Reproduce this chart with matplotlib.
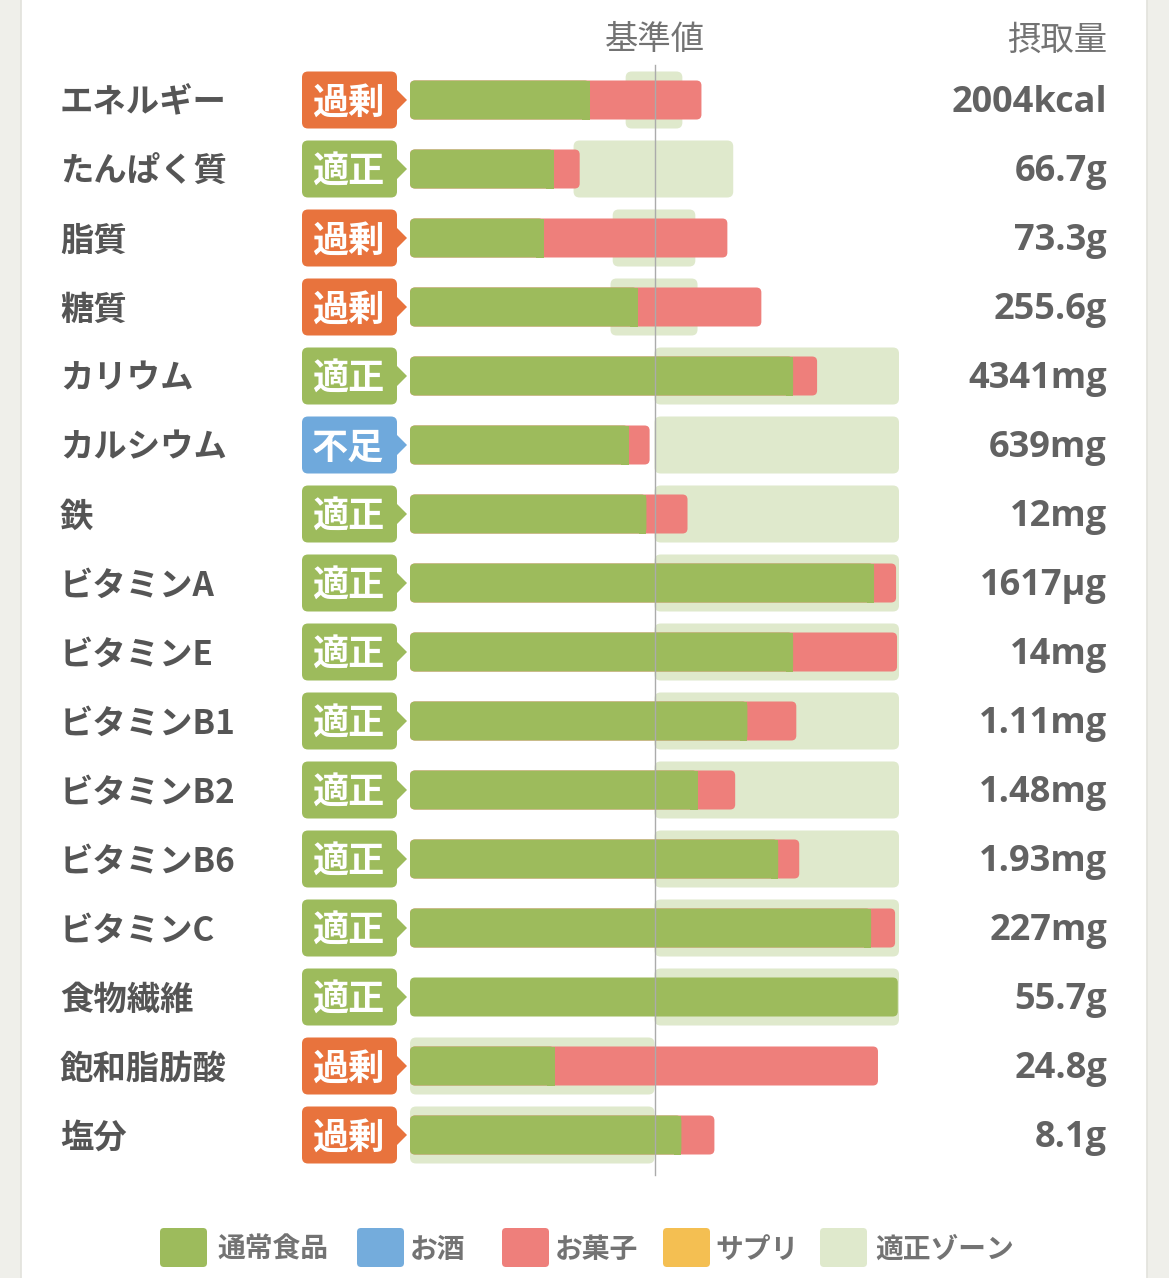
import matplotlib
matplotlib.use("Agg")
import matplotlib.pyplot as plt
from matplotlib.patches import FancyBboxPatch, Rectangle, Polygon

plt.rcParams["font.family"] = ["Noto Sans CJK JP", "DejaVu Sans"]
value_fam = ["Open Sans", "Noto Sans CJK JP", "DejaVu Sans"]

# ---- data (percent of the reference value) ----
nutrients = ["エネルギー", "たんぱく質", "脂質", "糖質", "カリウム", "カルシウム", "鉄",
             "ビタミンA", "ビタミンE", "ビタミンB1", "ビタミンB2", "ビタミンB6",
             "ビタミンC", "食物繊維", "飽和脂肪酸", "塩分"]
status = ["過剰", "適正", "過剰", "過剰", "適正", "不足", "適正", "適正",
          "適正", "適正", "適正", "適正", "適正", "適正", "過剰", "過剰"]
intake = ["2004kcal", "66.7g", "73.3g", "255.6g", "4341mg", "639mg", "12mg", "1617µg",
          "14mg", "1.11mg", "1.48mg", "1.93mg", "227mg", "55.7g", "24.8g", "8.1g"]
food = [73.5, 58.8, 54.7, 93.1, 156.7, 89.4, 96.7, 189.8,
        156.7, 138.0, 117.6, 150.6, 188.6, 199.5, 59.2, 111.0]
sweets = [45.7, 10.6, 75.1, 50.6, 9.8, 8.6, 16.8, 9.0,
          42.5, 20.0, 15.4, 8.6, 9.8, 0.0, 132.2, 13.5]
zone_lo = [88.2, 66.9, 82.9, 82.0, 100, 100, 100, 100, 100, 100, 100, 100, 100, 100, 0, 0]
zone_hi = [111.4, 132.2, 116.7, 117.6, 200, 200, 200, 200, 200, 200, 200, 200, 200, 200, 100, 100]
legend_names = ["通常食品", "お酒", "お菓子", "サプリ", "適正ゾーン"]

# colours
c_food = "#9DBB5C"
c_sake = "#74ACDC"
c_sweet = "#EE7F7B"
c_supp = "#F4BF52"
c_zone = "#DFE9CC"
badge_col = {"過剰": "#E8733D", "適正": "#9DBB5C", "不足": "#6FA9DC"}
txt_dark = "#555555"
txt_gray = "#737373"

W, H = 1169, 1278
x0_px, sx = 410, 2.445      # pixel of 0 %, pixels per 1 %
y0_px, sy = 100, 69         # pixel of row 0 centre, pixels per row

fig = plt.figure(figsize=(W / 100, H / 100), dpi=100, facecolor="#EFEFEA")
ax = fig.add_axes([0, 0, 1, 1])
ax.set_xlim(-x0_px / sx, (W - x0_px) / sx)
ax.set_ylim((H - y0_px) / sy, -y0_px / sy)
ax.axis("off")

def px(x):
    return (x - x0_px) / sx

def py(y):
    return (y - y0_px) / sy

asp = (1 / sy) / (1 / sx)

def rbox(x, y, w, h, r, color, z):
    p = FancyBboxPatch((x, y), w, h, boxstyle=f"round,pad=0,rounding_size={r / sx}",
                       mutation_aspect=asp, fc=color, ec="none", zorder=z)
    ax.add_patch(p)

# white card
ax.add_patch(Rectangle((px(21), py(0)), (1147 - 21) / sx, H / sy, fc="white", ec="none", zorder=0))
ax.plot([px(21), px(21)], [py(0), py(H)], color="#E2E2DC", lw=1.2, zorder=0.5)
ax.plot([px(1147), px(1147)], [py(0), py(H)], color="#E2E2DC", lw=1.2, zorder=0.5)

bar_h = 39 / sy
zone_h = 57 / sy
dy = 3 / sy   # text baseline nudge

for i, name in enumerate(nutrients):
    # appropriate zone
    rbox(zone_lo[i], i - zone_h / 2, zone_hi[i] - zone_lo[i], zone_h, 6, c_zone, 1)
    # stacked bar
    total = food[i] + sweets[i]
    if sweets[i] > 0:
        rbox(0, i - bar_h / 2, total, bar_h, 5, c_sweet, 2)
        rbox(0, i - bar_h / 2, food[i], bar_h, 5, c_food, 3)
        ax.add_patch(Rectangle((food[i] - 3, i - bar_h / 2), 3, bar_h, fc=c_food, ec="none", zorder=3))
    else:
        rbox(0, i - bar_h / 2, food[i], bar_h, 5, c_food, 3)

    # badge
    col = badge_col[status[i]]
    rbox(px(302), i - zone_h / 2, (397 - 302) / sx, zone_h, 6, col, 2)
    ax.add_patch(Polygon([(px(396), i - 11 / sy), (px(407), i), (px(396), i + 11 / sy)],
                         closed=True, fc=col, ec="none", zorder=2))
    ax.text(px(348), i + dy, status[i], color="white", fontsize=26, fontweight="bold",
            ha="center", va="center", zorder=4)

    # labels
    ax.text(px(60), i + dy, name, color=txt_dark, fontsize=24, fontweight="bold",
            ha="left", va="center", zorder=4)
    ax.text(px(1107), i + 3 / sy, intake[i], color="#626262", fontsize=26, fontweight="bold",
            family=value_fam, ha="right", va="center", zorder=4)

# reference line
ax.plot([100, 100], [py(65), py(1175)], color="#ABABAB", lw=1, zorder=5)

# headers
ax.text(100, py(40), "基準値", color=txt_gray, fontsize=24, ha="center", va="center")
ax.text(px(1107), py(40), "摂取量", color=txt_gray, fontsize=24, ha="right", va="center")

# legend
leg_cols = [c_food, c_sake, c_sweet, c_supp, c_zone]
sq_x = [160, 357, 502, 663, 820]
tx_x = [217, 410, 555, 715, 875]
for name, col, sxp, txp in zip(legend_names, leg_cols, sq_x, tx_x):
    rbox(px(sxp), py(1228), 47 / sx, 39 / sy, 4, col, 2)
    ax.text(px(txp), py(1250), name, color=txt_gray, fontsize=20, fontweight="bold",
            ha="left", va="center")

fig.savefig("out.png", dpi=100, facecolor=fig.get_facecolor())
